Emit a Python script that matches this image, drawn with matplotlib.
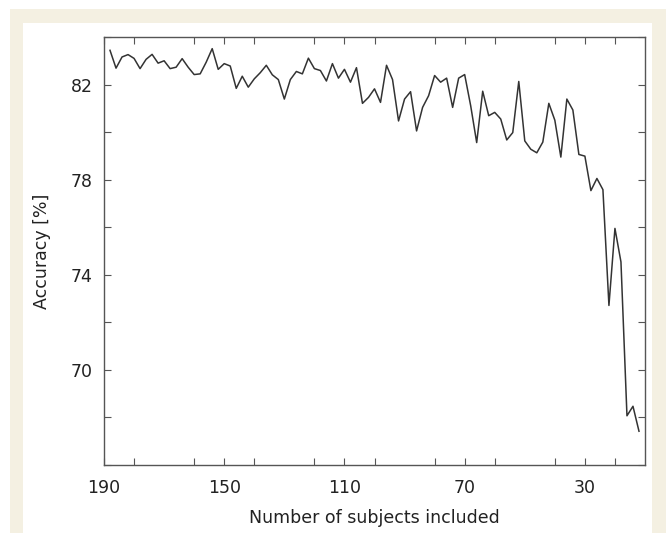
import matplotlib
matplotlib.use("Agg")
import matplotlib.pyplot as plt
from matplotlib.patches import Rectangle
from matplotlib.ticker import MultipleLocator

# number of subjects included (every 2, from 188 down to 12)
subjects = list(range(188, 11, -2))

# accuracy [%]
accuracy = [
    83.44, 82.69, 83.16, 83.26, 83.10, 82.67, 83.06, 83.27, 82.90, 83.00,
    82.67, 82.73, 83.09, 82.73, 82.42, 82.45, 82.94, 83.51, 82.64, 82.88,
    82.78, 81.84, 82.35, 81.89, 82.24, 82.50, 82.81, 82.41, 82.21, 81.39,
    82.21, 82.55, 82.45, 83.11, 82.67, 82.59, 82.15, 82.88, 82.27, 82.64,
    82.10, 82.71, 81.21, 81.46, 81.82, 81.25, 82.81, 82.21, 80.47, 81.39,
    81.70, 80.05, 81.04, 81.53, 82.38, 82.10, 82.27, 81.04, 82.27, 82.42,
    81.11, 79.56, 81.72, 80.69, 80.83, 80.55, 79.67, 79.98, 82.13, 79.63,
    79.28, 79.13, 79.58, 81.21, 80.50, 78.95, 81.39, 80.93, 79.06, 78.99,
    77.54, 78.05, 77.58, 72.71, 75.95, 74.54, 68.07, 68.47, 67.42,
]

xticks = [190, 150, 110, 70, 30]
yticks = [70, 74, 78, 82]

W, H = 666, 533
fig = plt.figure(figsize=(W / 100, H / 100), dpi=100)
fig.patch.set_facecolor("white")

# beige frame and white inner panel, kept behind the axes
fig.patches.append(Rectangle((10 / W, 0), 1 - 10 / W, (H - 9) / H,
                             transform=fig.transFigure, facecolor="#f4f0e2",
                             edgecolor="none", zorder=-10))
fig.patches.append(Rectangle((23 / W, 0), (652 - 23) / W, (H - 23) / H,
                             transform=fig.transFigure, facecolor="white",
                             edgecolor="none", zorder=-9))

left, right, top, bottom = 104, 645, 37, 465
ax = fig.add_axes([left / W, 1 - bottom / H, (right - left) / W, (bottom - top) / H])

ax.plot(subjects, accuracy, color="#333333", lw=1.1)

ax.set_xlim(190, 10)
ax.set_ylim(66, 84)
ax.set_xticks(xticks)
ax.set_yticks(yticks)
ax.xaxis.set_minor_locator(MultipleLocator(20))
ax.yaxis.set_minor_locator(MultipleLocator(2))

ax.tick_params(which="both", direction="in", top=True, right=True,
               length=5, width=0.8, color="#555555",
               labelsize=12.5, labelcolor="#222222")
ax.tick_params(axis="x", pad=10)
ax.tick_params(axis="y", pad=8)
for s in ax.spines.values():
    s.set_color("#555555")
    s.set_linewidth(1.0)

ax.set_xlabel("Number of subjects included", fontsize=12.5, color="#222222", labelpad=9)
ax.set_ylabel("Accuracy [%]", fontsize=12.5, color="#222222", labelpad=14)

fig.savefig("out.png", dpi=100)
